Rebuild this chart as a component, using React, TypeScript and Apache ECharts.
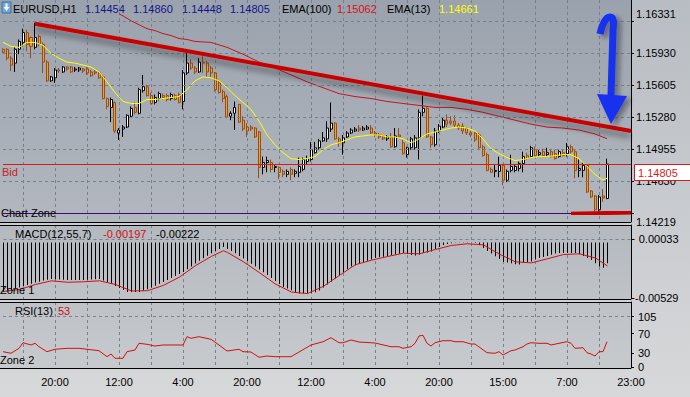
import React, { useEffect, useRef } from 'react';
import * as echarts from 'echarts';

const FONT = "'Liberation Sans', Arial, sans-serif";

// ---- categories (hourly bars, weekend gap) ----
const START_HOUR = 7;
const GAP_AFTER_INDEX = 112;
const GAP_HOURS = 3;
const BAR_COUNT = 158;
const categories = Array.from({ length: BAR_COUNT }, (_, i) =>
  `${(START_HOUR + i + (i > GAP_AFTER_INDEX ? GAP_HOURS : 0)) % 24}:00`
);

// ---- EURUSD H1 candles: [open, close, low, high] ----
const candles = [
  [1.1597,1.1594,1.1593,1.1598],[1.1597,1.1588,1.1586,1.1598],[1.1588,1.1581,1.1575,1.1590],[1.1583,1.1597,1.1574,1.1599],
  [1.1597,1.1605,1.1592,1.1607],[1.1604,1.1614,1.1600,1.1618],[1.1614,1.1602,1.1595,1.1617],[1.1609,1.1600,1.1588,1.1610],
  [1.1599,1.1609,1.1597,1.1624],[1.1610,1.1602,1.1600,1.1612],[1.1602,1.1584,1.1573,1.1604],[1.1584,1.1565,1.1564,1.1586],
  [1.1565,1.1569,1.1564,1.1570],[1.1568,1.1576,1.1563,1.1578],[1.1576,1.1575,1.1573,1.1578],[1.1574,1.1579,1.1573,1.1580],
  [1.1579,1.1577,1.1575,1.1580],[1.1579,1.1574,1.1573,1.1580],[1.1576,1.1577,1.1574,1.1579],[1.1576,1.1578,1.1574,1.1579],
  [1.1577,1.1575,1.1573,1.1578],[1.1577,1.1573,1.1571,1.1579],[1.1574,1.1570,1.1569,1.1576],[1.1574,1.1573,1.1571,1.1576],
  [1.1573,1.1568,1.1567,1.1574],[1.1569,1.1547,1.1546,1.1571],[1.1547,1.1539,1.1536,1.1548],[1.1538,1.1546,1.1523,1.1548],
  [1.1543,1.1514,1.1512,1.1544],[1.1512,1.1515,1.1505,1.1517],[1.1516,1.1518,1.1508,1.1520],[1.1518,1.1530,1.1517,1.1531],
  [1.1529,1.1537,1.1528,1.1539],[1.1538,1.1533,1.1531,1.1543],[1.1532,1.1556,1.1531,1.1558],[1.1555,1.1559,1.1553,1.1571],
  [1.1559,1.1550,1.1549,1.1561],[1.1550,1.1542,1.1541,1.1553],[1.1543,1.1548,1.1541,1.1551],[1.1547,1.1552,1.1545,1.1554],
  [1.1550,1.1548,1.1546,1.1552],[1.1550,1.1546,1.1544,1.1552],[1.1547,1.1551,1.1545,1.1553],[1.1550,1.1546,1.1545,1.1552],
  [1.1551,1.1543,1.1542,1.1553],[1.1544,1.1573,1.1536,1.1576],[1.1573,1.1583,1.1571,1.1594],[1.1583,1.1578,1.1576,1.1587],
  [1.1578,1.1574,1.1572,1.1580],[1.1574,1.1584,1.1573,1.1588],[1.1584,1.1583,1.1573,1.1590],[1.1583,1.1574,1.1569,1.1585],
  [1.1578,1.1573,1.1569,1.1580],[1.1573,1.1556,1.1554,1.1574],[1.1563,1.1553,1.1552,1.1566],[1.1554,1.1547,1.1543,1.1556],
  [1.1549,1.1528,1.1527,1.1551],[1.1529,1.1532,1.1525,1.1534],[1.1532,1.1538,1.1515,1.1544],[1.1541,1.1523,1.1522,1.1541],
  [1.1525,1.1516,1.1514,1.1529],[1.1518,1.1514,1.1508,1.1522],[1.1518,1.1516,1.1514,1.1520],[1.1517,1.1508,1.1507,1.1518],
  [1.1513,1.1477,1.1466,1.1514],[1.1477,1.1482,1.1470,1.1488],[1.1482,1.1484,1.1472,1.1488],[1.1482,1.1475,1.1472,1.1485],
  [1.1477,1.1478,1.1472,1.1480],[1.1477,1.1472,1.1465,1.1478],[1.1473,1.1470,1.1467,1.1475],[1.1470,1.1473,1.1467,1.1475],
  [1.1475,1.1470,1.1464,1.1477],[1.1471,1.1473,1.1467,1.1475],[1.1472,1.1478,1.1467,1.1487],[1.1475,1.1485,1.1473,1.1487],
  [1.1483,1.1486,1.1480,1.1489],[1.1485,1.1495,1.1483,1.1503],[1.1492,1.1497,1.1491,1.1503],[1.1497,1.1504,1.1495,1.1506],
  [1.1504,1.1507,1.1503,1.1513],[1.1506,1.1517,1.1503,1.1524],[1.1516,1.1522,1.1513,1.1543],[1.1522,1.1506,1.1505,1.1523],
  [1.1506,1.1502,1.1498,1.1508],[1.1502,1.1507,1.1490,1.1510],[1.1508,1.1512,1.1507,1.1514],[1.1512,1.1515,1.1511,1.1517],
  [1.1514,1.1516,1.1513,1.1518],[1.1517,1.1515,1.1513,1.1520],[1.1515,1.1517,1.1514,1.1519],[1.1516,1.1518,1.1515,1.1520],
  [1.1517,1.1512,1.1511,1.1520],[1.1512,1.1510,1.1508,1.1514],[1.1510,1.1508,1.1506,1.1512],[1.1508,1.1506,1.1505,1.1510],
  [1.1506,1.1508,1.1504,1.1510],[1.1508,1.1498,1.1497,1.1512],[1.1498,1.1509,1.1497,1.1517],[1.1510,1.1508,1.1507,1.1517],
  [1.1502,1.1491,1.1490,1.1505],[1.1490,1.1497,1.1487,1.1498],[1.1497,1.1506,1.1495,1.1508],[1.1497,1.1507,1.1495,1.1510],
  [1.1507,1.1533,1.1485,1.1536],[1.1533,1.1537,1.1529,1.1550],[1.1537,1.1508,1.1507,1.1539],[1.1508,1.1500,1.1497,1.1509],
  [1.1500,1.1514,1.1498,1.1517],[1.1514,1.1519,1.1512,1.1521],[1.1518,1.1525,1.1517,1.1528],[1.1525,1.1521,1.1518,1.1531],
  [1.1524,1.1522,1.1520,1.1529],[1.1524,1.1520,1.1518,1.1530],[1.1520,1.1517,1.1515,1.1522],[1.1519,1.1514,1.1511,1.1522],
  [1.1517,1.1512,1.1510,1.1518],[1.1512,1.1510,1.1508,1.1514],[1.1512,1.1505,1.1503,1.1513],[1.1510,1.1497,1.1496,1.1512],
  [1.1498,1.1489,1.1488,1.1500],[1.1490,1.1474,1.1473,1.1492],[1.1475,1.1472,1.1472,1.1477],[1.1473,1.1474,1.1467,1.1480],
  [1.1473,1.1479,1.1467,1.1488],[1.1479,1.1464,1.1459,1.1480],[1.1464,1.1473,1.1462,1.1475],[1.1474,1.1478,1.1472,1.1490],
  [1.1474,1.1478,1.1472,1.1480],[1.1476,1.1481,1.1473,1.1483],[1.1481,1.1488,1.1472,1.1493],[1.1489,1.1486,1.1485,1.1492],
  [1.1488,1.1497,1.1487,1.1499],[1.1495,1.1489,1.1488,1.1498],[1.1490,1.1492,1.1488,1.1495],[1.1493,1.1489,1.1488,1.1496],
  [1.1490,1.1492,1.1488,1.1497],[1.1493,1.1488,1.1487,1.1496],[1.1491,1.1486,1.1485,1.1495],[1.1488,1.1493,1.1487,1.1495],
  [1.1492,1.1489,1.1488,1.1495],[1.1491,1.1498,1.1488,1.1502],[1.1498,1.1493,1.1491,1.1500],[1.1493,1.1474,1.1466,1.1495],
  [1.1474,1.1476,1.1467,1.1485],[1.1474,1.1479,1.1467,1.1482],[1.1479,1.1452,1.1451,1.1480],[1.1453,1.1447,1.1446,1.1454],
  [1.1448,1.1434,1.1432,1.1449],[1.1434,1.1447,1.1431,1.1449],[1.1448,1.1446,1.1442,1.1455],[1.14454,1.14805,1.14448,1.14860],
];

// ---- moving averages: [barIndex, value] ----
const ema13 = [
  [0,1.1604],[2,1.1600],[4,1.1599],[6,1.1604],[8,1.1604],[10,1.1601],[12,1.1593],[14,1.1588],[16,1.1584],[18,1.1583],
  [20,1.1581],[22,1.1579],[24,1.1574],[26,1.1564],[28,1.1553],[30,1.1544],[32,1.1542],[34,1.1542],[36,1.1546],[38,1.1546],
  [40,1.1547],[42,1.1548],[44,1.1549],[46,1.1556],[48,1.1565],[50,1.1569],[52,1.1568],[54,1.1565],[56,1.1558],[58,1.1550],
  [60,1.1543],[62,1.1536],[64,1.1524],[66,1.1510],[68,1.1500],[70,1.1492],[72,1.1486],[74,1.1485],[76,1.1486],[78,1.1488],
  [80,1.1495],[82,1.1500],[84,1.1502],[86,1.1505],[88,1.1508],[90,1.1509],[92,1.1510],[94,1.1510],[96,1.1508],[98,1.1508],
  [100,1.1506],[102,1.1502],[104,1.1506],[106,1.1511],[108,1.1513],[110,1.1515],[112,1.1517],[114,1.1518],[116,1.1517],
  [118,1.1514],[120,1.1506],[122,1.1496],[124,1.1491],[126,1.1487],[128,1.1484],[130,1.1485],[132,1.1487],[134,1.1488],
  [136,1.1488],[138,1.1489],[140,1.1490],[142,1.1490],[144,1.1486],[146,1.1478],[148,1.1470],[150,1.1464],[151,1.14661],
];
const ema100 = [
  [29,1.1633],[30,1.1631],[32,1.1626],[34,1.1622],[36,1.1618],[38,1.1616],[40,1.1613],
  [42,1.1611],[44,1.1608],[46,1.1607],[48,1.1605],[52,1.1604],[56,1.1599],[60,1.1592],[64,1.1584],[68,1.1578],[72,1.1571],
  [76,1.1564],[80,1.1558],[84,1.1552],[88,1.1549],[92,1.1547],[96,1.1544],[100,1.1542],[104,1.1540],[108,1.1538],[112,1.1538],
  [116,1.1536],[120,1.1533],[124,1.1529],[128,1.1525],[132,1.1521],[136,1.1518],[140,1.1517],[144,1.1515],[148,1.1511],[151,1.15062],
];
const trendLine = [[8, 1.1623], [157, 1.1514]];
const supportLine = [[142, 1.14300], [157, 1.14312]];
const bidPrice = 1.14805;
const zonePrice = 1.14305;
const priceGrid = [1.14305, 1.1463, 1.14955, 1.1528, 1.15605, 1.1593, 1.16255];
const priceLabels = [1.14219, 1.1463, 1.14955, 1.1528, 1.15605, 1.1593, 1.16331];

// ---- MACD(12,55,7) ----
const macdHist = [
  -0.00469,-0.00459,-0.00447,-0.00437,-0.00426,-0.00413,-0.00402,-0.00390,-0.00379,-0.00371,
  -0.00361,-0.00353,-0.00347,-0.00349,-0.00351,-0.00354,-0.00356,-0.00356,-0.00356,-0.00356,
  -0.00356,-0.00354,-0.00351,-0.00349,-0.00347,-0.00359,-0.00376,-0.00394,-0.00412,-0.00431,
  -0.00450,-0.00469,-0.00469,-0.00469,-0.00469,-0.00458,-0.00443,-0.00427,-0.00409,-0.00392,
  -0.00374,-0.00356,-0.00337,-0.00318,-0.00299,-0.00280,-0.00253,-0.00227,-0.00199,-0.00173,
  -0.00149,-0.00125,-0.00101,-0.00081,-0.00062,-0.00043,-0.00062,-0.00081,-0.00102,-0.00127,
  -0.00152,-0.00176,-0.00201,-0.00228,-0.00255,-0.00282,-0.00308,-0.00337,-0.00365,-0.00393,
  -0.00422,-0.00437,-0.00453,-0.00468,-0.00484,-0.00484,-0.00481,-0.00476,-0.00472,-0.00455,
  -0.00427,-0.00398,-0.00370,-0.00341,-0.00312,-0.00283,-0.00254,-0.00228,-0.00215,-0.00202,
  -0.00188,-0.00174,-0.00160,-0.00147,-0.00140,-0.00134,-0.00127,-0.00119,-0.00113,-0.00106,
  -0.00100,-0.00109,-0.00119,-0.00123,-0.00114,-0.00100,-0.00095,-0.00085,-0.00062,-0.00043,
  -0.00024,-0.00014,-0.00007,-0.00003,-0.00002,-0.00002,-0.00002,-0.00003,-0.00005,-0.00024,
  -0.00052,-0.00080,-0.00105,-0.00131,-0.00156,-0.00185,-0.00190,-0.00197,-0.00205,-0.00208,
  -0.00194,-0.00189,-0.00179,-0.00162,-0.00148,-0.00137,-0.00127,-0.00116,-0.00105,-0.00100,
  -0.00100,-0.00100,-0.00100,-0.00100,-0.00112,-0.00128,-0.00146,-0.00165,-0.00197,-0.00227,
  -0.00239,-0.00197,
];
const macdSignal = [
  [0,-0.00464],[4,-0.00445],[8,-0.00398],[12,-0.00363],[16,-0.00377],[20,-0.00372],[24,-0.00363],[28,-0.00398],
  [32,-0.00459],[36,-0.00457],[40,-0.00406],[44,-0.00328],[48,-0.00219],[52,-0.00131],[55,-0.00078],[56,-0.00094],
  [60,-0.00183],[64,-0.00286],[68,-0.00394],[72,-0.00470],[76,-0.00484],[80,-0.00415],[84,-0.00311],[88,-0.00210],
  [92,-0.00168],[96,-0.00133],[100,-0.00101],[104,-0.00107],[108,-0.00066],[112,-0.00028],[116,-0.00012],[120,-0.00023],
  [124,-0.00111],[128,-0.00183],[132,-0.00193],[136,-0.00154],[140,-0.00114],[144,-0.00107],[148,-0.00147],[151,-0.00222],
];
const macdLabels = [-0.00529, 0.00033];
const macdLevel = 0.00033;

// ---- RSI(13): [barIndex, value] ----
const rsi = [
  [0,32.4],[2,29.1],[4,39.4],[5,51.0],[7,46.3],[8,49.8],[9,42.7],[11,32.4],[13,37.4],[16,39.4],[19,39.4],[21,37.4],
  [24,34.4],[26,22.0],[27,27.6],[28,18.7],[30,18.7],[31,32.4],[33,35.9],[34,49.8],[36,47.7],[38,44.2],[40,46.3],
  [44,46.3],[45,46.3],[46,63.5],[47,60.2],[49,63.5],[52,58.1],[54,46.3],[56,33.8],[59,37.4],[60,32.4],[62,31.7],
  [64,20.8],[66,23.4],[68,22.0],[72,22.0],[77,46.3],[80,53.1],[82,61.4],[84,51.0],[85,51.0],[87,56.7],[89,52.5],
  [93,50.4],[97,42.7],[99,42.7],[100,39.4],[102,42.7],[103,49.8],[104,65.0],[105,66.4],[106,49.8],[107,44.2],
  [108,51.0],[110,55.2],[112,55.2],[113,53.1],[115,53.1],[117,48.3],[118,48.3],[121,30.3],[123,29.1],[124,32.4],
  [125,25.5],[127,34.4],[128,35.9],[130,42.7],[131,48.3],[132,51.0],[134,49.8],[136,49.8],[137,46.3],[139,49.8],
  [141,53.1],[142,49.8],[143,39.4],[145,40.6],[146,30.3],[147,27.6],[148,23.4],[149,32.4],[150,32.4],[151,53],
];
const rsiLabels = [0, 30, 70, 105];
const rsiLevel = 105;

// ---- header texts ----
const headerTexts = [
  { text: 'EURUSD,H1', color: '#000000' },
  { text: '1.14454', color: '#14148c' },
  { text: '1.14860', color: '#14148c' },
  { text: '1.14448', color: '#14148c' },
  { text: '1.14805', color: '#14148c' },
  { text: 'EMA(100)', color: '#000000' },
  { text: '1.15062', color: '#dd1111' },
  { text: 'EMA(13)', color: '#000000' },
  { text: '1.14661', color: '#ffff00' },
];
const headerX = [13, 85, 133, 182, 230, 282, 337, 387, 439];
const macdHeader = [
  { text: 'MACD(12,55,7)', color: '#000000', x: 15 },
  { text: '-0.00197', color: '#d01010', x: 103 },
  { text: '-0.00222', color: '#000000', x: 156 },
];
const rsiHeader = [
  { text: 'RSI(13)', color: '#000000', x: 15 },
  { text: '53', color: '#d01010', x: 58 },
];

const ARROW_SHAFT = 'M600 34 C602 24 606 17 610 17 C614 17 614 23 613 30 L611 96';
let shapeRegistered = false;
function registerShapes() {
  if (shapeRegistered) return;
  echarts.graphic.registerShape('arrowShaft', echarts.graphic.extendPath(ARROW_SHAFT, {}) as any);
  shapeRegistered = true;
}

const gridLineStyle = { color: '#77818e', type: [3, 3], width: 1 };

export default function App() {
  const ref = useRef<HTMLDivElement>(null);

  useEffect(() => {
    const el = ref.current;
    if (!el) return;
    document.body.style.margin = '0';
    registerShapes();
    const chart = echarts.init(el, null, { renderer: 'svg' });

    const grids = [
      { left: 3, width: 628, top: 0, height: 222 },
      { left: 3.5, width: 628, top: 225, height: 74 },
      { left: 3, width: 628, top: 302, height: 66 },
    ];

    const xAxes = [0, 1, 2].map((g) => ({
      type: 'category',
      gridIndex: g,
      data: categories,
      boundaryGap: false,
      axisLine: { show: false },
      axisTick: { show: false },
      axisLabel:
        g === 2
          ? { show: true, interval: (i: number) => i % 16 === 13, color: '#000', fontFamily: FONT, fontSize: 11, margin: 8 }
          : { show: false },
      splitLine: { show: true, interval: (i: number) => i % 8 === 5, lineStyle: gridLineStyle },
    }));

    const axisLineBlack = { show: true, lineStyle: { color: '#000', width: 1 } };
    const noLabel = { show: false };

    const option: any = {
      animation: false,
      backgroundColor: 'transparent',
      grid: grids,
      xAxis: xAxes,
      yAxis: [
        {
          type: 'value', gridIndex: 0, position: 'right', min: 1.142155, max: 1.16471,
          axisLine: axisLineBlack,
          axisTick: { show: true, length: 3, customValues: priceGrid, lineStyle: { color: '#000' } },
          axisLabel: { customValues: priceLabels, formatter: (v: number) => v.toFixed(5), color: '#000', fontFamily: FONT, fontSize: 11, margin: 5 },
          splitLine: { show: false },
        },
        {
          type: 'value', gridIndex: 1, position: 'right', min: -0.005355, max: 0.00166,
          axisLine: axisLineBlack,
          axisTick: { show: true, length: 3, customValues: macdLabels, lineStyle: { color: '#000' } },
          axisLabel: { customValues: macdLabels, formatter: (v: number) => v.toFixed(5), color: '#000', fontFamily: FONT, fontSize: 11, margin: 47, align: 'right' },
          splitLine: { show: false },
        },
        {
          type: 'value', gridIndex: 2, position: 'right', min: -1.45, max: 135.5,
          axisLine: axisLineBlack,
          axisTick: { show: true, length: 3, customValues: rsiLabels, lineStyle: { color: '#000' } },
          axisLabel: { customValues: rsiLabels, formatter: (v: number) => String(Math.round(v)), color: '#000', fontFamily: FONT, fontSize: 11, margin: 7 },
          splitLine: { show: false },
        },
      ],
      series: [
        {
          // price grid lines (behind candles)
          type: 'line', name: 'grid', xAxisIndex: 0, yAxisIndex: 0, data: [], z: 1, silent: true,
          markLine: {
            silent: true, symbol: ['none', 'none'], label: noLabel, precision: 6,
            data: priceGrid.map((v) => ({ yAxis: v, lineStyle: gridLineStyle })),
          },
        },
        {
          type: 'candlestick', name: 'EURUSD', xAxisIndex: 0, yAxisIndex: 0, data: candles,
          barWidth: 2.5, clip: false, z: 2,
          itemStyle: { color: '#ffffff', color0: '#f0a226', borderColor: '#000000', borderColor0: '#9a4c14', borderWidth: 1 },
        },
        {
          type: 'line', name: 'EMA(100)', xAxisIndex: 0, yAxisIndex: 0, data: ema100, symbol: 'none', z: 3,
          lineStyle: { color: '#c8141e', width: 1 },
          markLine: {
            silent: true, symbol: ['none', 'none'], precision: 6,
            data: [
              {
                yAxis: bidPrice,
                lineStyle: { color: '#d41c1c', width: 1, type: 'solid' },
                label: { show: true, position: 'insideStartBottom', formatter: 'Bid', color: '#c81e1e', fontFamily: FONT, fontSize: 11, distance: [-1, 3] },
              },
              {
                yAxis: zonePrice,
                lineStyle: { color: '#3a0c7a', width: 1, type: 'solid' },
                label: { show: true, position: 'insideStartTop', formatter: 'Chart Zone', color: '#000000', fontFamily: FONT, fontSize: 11, distance: [-2, -5] },
              },
            ],
          },
        },
        {
          type: 'line', name: 'EMA(13)', xAxisIndex: 0, yAxisIndex: 0, data: ema13, symbol: 'none', z: 3,
          lineStyle: { color: '#ffff00', width: 1 },
        },
        {
          type: 'line', name: 'trend', xAxisIndex: 0, yAxisIndex: 0, data: trendLine, symbol: 'none', z: 5, clip: false,
          lineStyle: { color: '#c80000', width: 4, shadowColor: 'rgba(30,30,30,0.45)', shadowBlur: 6, shadowOffsetY: 5 },
        },
        {
          type: 'line', name: 'support', xAxisIndex: 0, yAxisIndex: 0, data: supportLine, symbol: 'none', z: 5, clip: false,
          lineStyle: { color: '#c80000', width: 4, shadowColor: 'rgba(30,30,30,0.45)', shadowBlur: 6, shadowOffsetY: 5 },
        },
        {
          type: 'bar', name: 'MACD', xAxisIndex: 1, yAxisIndex: 1, data: macdHist, barWidth: 1,
          itemStyle: { color: '#000000' },
          markLine: {
            silent: true, symbol: ['none', 'none'], label: noLabel, precision: 6,
            data: [{ yAxis: macdLevel, lineStyle: gridLineStyle }],
          },
        },
        {
          type: 'line', name: 'Signal', xAxisIndex: 1, yAxisIndex: 1, data: macdSignal, symbol: 'none', z: 3,
          lineStyle: { color: '#d01010', width: 1 },
        },
        {
          type: 'line', name: 'RSI', xAxisIndex: 2, yAxisIndex: 2, data: rsi, symbol: 'none', z: 3,
          lineStyle: { color: '#d01010', width: 1 },
          markLine: {
            silent: true, symbol: ['none', 'none'], label: noLabel, precision: 6,
            data: [{ yAxis: rsiLevel, lineStyle: gridLineStyle }],
          },
        },
      ],
    };

    chart.setOption(option);

    const bidY = chart.convertToPixel({ yAxisIndex: 0 }, bidPrice) as number;
    const lg = (a: string, b: string) => new echarts.graphic.LinearGradient(0, 0, 0, 1, [
      { offset: 0, color: a }, { offset: 1, color: b },
    ]);
    const textEl = (text: string, x: number, y: number, color: string) => ({
      type: 'text', x, y, z: 50,
      style: { text, fill: color, font: `11px ${FONT}`, verticalAlign: 'middle', align: 'left' },
    });
    const hline = (y: number) => ({
      type: 'line', z: 50, shape: { x1: 0, y1: y, x2: 631, y2: y }, style: { stroke: '#000', lineWidth: 1 },
    });
    const shadow = { shadowColor: 'rgba(20,20,40,0.45)', shadowBlur: 5, shadowOffsetX: 4, shadowOffsetY: 3 };

    const graphic: any[] = [
      { type: 'rect', z: -10, shape: { x: 0, y: 0, width: 631, height: 222 }, style: { fill: lg('#9aa2ad', '#b3b8bf') } },
      { type: 'rect', z: -10, shape: { x: 0, y: 225, width: 631, height: 74 }, style: { fill: lg('#b4b9bf', '#bfc3c8') } },
      { type: 'rect', z: -10, shape: { x: 0, y: 302, width: 631, height: 66 }, style: { fill: lg('#bec2c7', '#c7cacd') } },
      hline(222.5), hline(225.5), hline(299.5), hline(302.5), hline(368.5),
      ...headerTexts.map((h, i) => textEl(h.text, headerX[i], 8.5, h.color)),
      ...macdHeader.map((h) => textEl(h.text, h.x, 234, h.color)),
      ...rsiHeader.map((h) => textEl(h.text, h.x, 311, h.color)),
      textEl('Zone 1', 0, 290, '#000'),
      textEl('Zone 2', 0, 360, '#000'),
      { type: 'rect', z: 50, shape: { x: 2, y: 2, width: 9, height: 11 }, style: { fill: '#6fa8dc', stroke: '#3d6f9e', lineWidth: 1 } },
      { type: 'polygon', z: 51, shape: { points: [[3.5, 7], [9.5, 7], [6.5, 11]] }, style: { fill: '#ffffff' } },
      { type: 'rect', z: 51, shape: { x: 5.5, y: 3.5, width: 2, height: 4 }, style: { fill: '#ffffff' } },
      { type: 'arrowShaft', z: 60, style: { fill: 'none', stroke: '#1530f0', lineWidth: 7, ...shadow } },
      { type: 'polygon', z: 60, shape: { points: [[597, 94], [627, 96], [611, 124]] }, style: { fill: '#1530f0', ...shadow } },
      { type: 'rect', z: 60, shape: { x: 634.5, y: Math.round(bidY) + 0.5, width: 56, height: 16 }, style: { fill: '#ffffff', stroke: '#d41c1c', lineWidth: 1 } },
      { type: 'text', z: 61, x: 638, y: Math.round(bidY) + 9, style: { text: bidPrice.toFixed(5), fill: '#d41c1c', font: `11px ${FONT}`, verticalAlign: 'middle' } },
    ];
    chart.setOption({ graphic });

    return () => chart.dispose();
  }, []);

  return (
    <div
      style={{
        position: 'fixed', left: 0, top: 0, width: 690, height: 397,
        background: 'linear-gradient(to bottom, #b8bdc3 0%, #d7d8da 100%)',
      }}
    >
      <div ref={ref} style={{ width: 690, height: 397 }} />
    </div>
  );
}
